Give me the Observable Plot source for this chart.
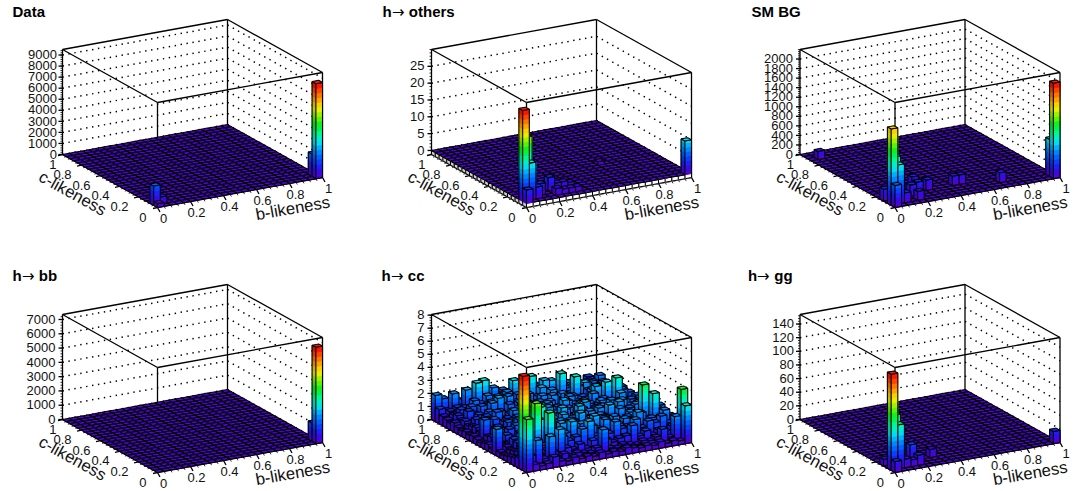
<!DOCTYPE html>
<html><head><meta charset="utf-8">
<style>html,body{margin:0;padding:0;background:#fff}
@font-face{font-family:"ArrowFace";src:local("DejaVu Sans");font-weight:100 900;unicode-range:U+2190-21FF}
</style>
<script src="https://cdn.jsdelivr.net/npm/d3@7"></script>
<script src="https://cdn.jsdelivr.net/npm/@observablehq/plot@0.6"></script>
</head><body><div id="chart"></div>
<script>
// Bin contents: [b bin, c bin, value] on a 25 x 25 grid
const dataBins = [[24,0,8600],[24,1,2030],[0,1,1750],[1,1,640],[0,0,350]];
const othersBins = [[0,1,27],[1,2,18],[1,1,11],[0,0,4],[2,1,3.5],[3,2,3.5],[5,3,4],[6,3,2],[7,3,2],[8,3,1.5],[5,1,2],[6,1,1.5],[7,1,1.5],[8,1,1.5],[24,0,10],[16,9,1]];
const smBins = [[24,0,2000],[24,1,780],[0,1,1600],[1,2,945],[1,1,820],[0,0,460],[0,3,250],[2,1,210],[4,3,235],[5,3,270],[6,6,220],[4,1,190],[7,4,220],[11,4,200],[12,4,200],[17,2,210],[1,22,170]];
const bbBins = [[24,0,6750],[24,1,1300]];
const ggBins = [[0,1,141],[1,2,76],[1,1,65],[2,1,13],[0,0,16],[4,3,24],[0,3,10],[4,1,15],[3,1,10],[7,3,12],[24,0,18]];
// h->cc, rows from c bin 24 (back) down to c bin 0 (front), each from b bin 0 to 24
const ccRows = [
[2.0,1.65,1.1,1.4,1.2,1.5,1.3,1.2,1.6,1.3,1.5,1.1,1.3,1.0,1.2,1.4,1.1,1.3,1.2,1.0,1.1,1.2,0.9,1.3,1.0],
[1.1,0.9,2.1,1.0,2.2,1.2,1.3,0.9,2.0,1.1,1.3,0.8,1.2,1.5,1.0,0.9,1.3,1.1,0.8,1.4,1.0,1.2,1.1,0.9,1.2],
[0.7,1.0,1.2,1.1,0.9,2.8,2.9,1.0,1.3,1.5,1.0,1.2,0.9,1.4,1.1,1.3,1.6,1.2,1.0,1.3,0.9,1.1,1.4,1.0,1.1],
[0.6,0.9,1.2,0.8,1.7,1.4,1.9,1.5,1.2,1.9,2.7,1.3,1.6,1.4,1.9,1.2,1.5,1.1,1.8,1.4,1.6,1.2,1.5,1.9,1.1],
[0.5,1.0,0.8,1.5,1.2,0.9,1.6,1.9,1.4,1.2,1.8,1.5,3.0,1.6,2.5,2.4,1.4,1.8,1.2,1.9,1.5,1.1,1.4,1.6,1.2],
[0.7,0.8,1.4,1.1,1.6,1.2,1.5,0.9,2.0,1.5,1.2,1.9,1.4,2.2,1.5,1.2,3.0,1.6,1.9,1.2,1.5,1.8,1.2,1.1,1.5],
[0.5,0.9,0.7,1.2,0.9,1.9,2.2,1.4,1.1,1.6,2.0,1.2,1.8,1.5,2.1,1.4,1.6,1.2,2.0,2.2,1.4,1.6,1.2,1.5,1.4],
[0.4,0.7,1.1,0.8,1.5,1.1,1.2,1.8,1.4,0.9,1.6,1.4,2.0,1.2,1.6,1.9,1.5,3.0,1.4,1.8,1.2,1.5,1.9,1.2,1.6],
[0.5,0.8,0.7,1.4,1.1,1.6,0.9,1.5,1.2,1.9,1.4,1.8,1.2,2.1,1.5,1.4,1.8,1.6,1.2,2.0,1.6,1.2,1.5,1.4,1.2],
[0.4,0.9,1.2,0.8,1.8,1.2,1.5,1.1,2.1,1.2,1.6,1.5,1.9,1.4,1.2,2.0,1.5,1.8,1.4,2.4,1.5,1.6,1.2,1.8,1.5],
[0.5,0.7,0.9,1.5,1.1,1.4,1.9,1.2,1.5,1.8,1.1,2.0,1.5,1.2,1.9,1.6,1.4,1.2,2.1,1.5,2.8,1.4,1.6,1.2,1.1],
[0.4,1.8,0.8,1.1,1.4,0.9,1.6,1.4,1.2,2.0,1.5,1.2,1.8,2.2,1.4,1.2,1.9,1.6,1.4,1.8,1.2,3.2,1.5,1.4,1.6],
[0.3,0.7,1.1,0.8,1.5,1.2,1.1,1.9,1.5,1.2,2.1,1.6,1.4,1.8,1.2,2.0,1.5,1.4,1.9,1.2,1.6,2.2,1.2,1.5,1.2],
[0.4,0.8,0.7,1.2,0.9,1.8,1.4,1.2,2.0,1.6,1.2,1.5,1.9,1.2,1.6,2.2,1.4,1.8,1.2,2.0,1.5,1.2,1.8,1.2,1.4],
[0.5,0.6,0.9,1.4,1.6,1.1,1.9,1.5,1.2,1.8,1.4,2.3,1.2,1.6,2.0,1.2,1.5,1.9,1.4,1.2,2.1,1.6,1.2,1.5,1.8],
[0.3,0.7,1.2,0.8,1.2,1.5,1.2,2.1,1.6,1.4,1.9,1.2,1.6,2.4,1.4,1.5,2.0,1.2,1.8,2.2,1.4,1.5,1.9,1.4,1.2],
[2.0,0.6,0.8,1.1,1.8,1.2,1.6,1.4,1.9,1.2,2.2,1.5,1.4,1.8,2.1,1.2,1.6,2.3,1.5,1.2,1.8,2.0,1.4,1.6,1.1],
[0.4,0.7,1.2,1.5,0.9,1.4,3.3,1.2,1.5,2.0,1.4,1.8,2.3,1.2,1.6,1.9,1.2,1.5,2.1,1.4,1.6,1.2,2.2,1.5,1.8],
[0.3,0.6,1.1,0.8,1.6,1.2,1.5,1.9,1.4,1.2,2.1,1.6,1.2,2.0,1.5,1.8,1.4,1.6,1.2,1.9,1.5,3.8,1.4,1.8,1.5],
[0.4,0.7,0.9,1.4,1.1,1.8,1.2,1.5,2.2,1.6,1.2,1.9,1.5,2.3,1.4,1.6,2.0,1.2,1.8,1.5,1.9,1.4,3.2,1.6,1.4],
[0.5,0.8,1.2,0.9,3.0,1.4,1.9,1.2,1.6,2.4,1.5,1.2,1.8,1.5,2.1,1.2,1.6,1.9,1.4,2.2,1.2,1.6,1.5,2.0,1.5],
[0.6,1.0,0.8,4.5,1.2,3.6,1.5,1.6,1.2,1.4,1.9,2.4,1.2,1.6,1.2,2.0,1.4,1.5,1.9,1.2,1.6,1.4,1.8,1.2,1.6],
[0.8,1.0,0.8,0.7,1.0,0.8,2.4,0.9,0.7,1.0,0.6,1.1,0.8,1.0,0.7,0.9,1.0,1.7,0.8,1.1,0.7,1.0,0.8,1.1,1.0],
[7.2,1.0,2.1,0.6,2.2,0.5,0.7,0.4,0.6,0.5,0.4,0.7,2.0,0.5,0.4,0.6,0.5,0.4,0.6,0.5,0.7,1.2,0.5,2.0,4.0],
[4.05,0.5,0.3,0.4,0.8,0.4,0.3,0.5,0.3,0.4,0.3,0.5,0.3,0.4,0.3,0.5,0.4,0.3,0.4,0.3,0.5,0.3,0.4,0.3,2.9]
];
const titles = ["Data","h→ others","SM BG","h→ bb","h→ cc","h→ gg"];
const binTickLabels = [0,0.2,0.4,0.6,0.8,1];
const zTickStep = [1000,5,200,1000,1,20];
const zTop = [9500,30,2200,7350,8.05,154];
const zBottom = [0,-1.2,0,0,0,0];
const zTickLast = [9000,25,2000,7000,8,140];
const binsByPanel = [dataBins,othersBins,smBins,bbBins,null,ggBins];

// Layout of the oblique view, in page pixels
const N = 25, BANDS = 20;
const col = [0,369,737.5], row = [0,265];
const titleX = [12,382,751,12,381,747.5], titleY = [16,280.5];
const zLabelGap = [5.5,7,7,7,7,6];
const view = {ox:157,oy:207,bx:165,by:-30,cx:-95,cy:-53,zh:105};
const paletteStops = [[0,"#5a00c8"],[.1,"#2a10f0"],[.2,"#0050ff"],[.3,"#0098ff"],[.38,"#00e4f0"],[.46,"#00f8a8"],[.56,"#00f020"],[.65,"#80f000"],[.74,"#f8f000"],[.85,"#ff8c00"],[1,"#f80000"]];
const palette = d3.scaleLinear().domain(paletteStops.map(d=>d[0])).range(paletteStops.map(d=>d[1])).interpolate(d3.interpolateRgb);

const polys=[], thin=[], heavy=[], dots=[], labels=[], heads=[], axisTitles=[];
let pid=0;
function poly(pts,fill,stroke){const k=pid++;for(const [x,y] of [...pts,pts[0]])polys.push({x,y,k,fill,stroke});}
function shade(c,f){const r=d3.rgb(c);return d3.rgb(r.r*f,r.g*f,r.b*f).formatRgb();}

titles.forEach((title,p)=>{
  const dx=col[p%3], dy=row[Math.floor(p/3)];
  const zlo=zBottom[p], zhi=zTop[p], zs=view.zh/(zhi-zlo);
  const P=(b,c,z)=>[dx+view.ox+view.bx*b+view.cx*c, dy+view.oy+view.by*b+view.cy*c-(z-zlo)*zs];
  const seg=(list,a,b,extra={})=>list.push({x1:a[0],y1:a[1],x2:b[0],y2:b[1],...extra});
  heads.push({x:titleX[p],y:titleY[Math.floor(p/3)],text:title});

  // grid on the back walls and the box
  const last=zTickLast[p], step=zTickStep[p];
  for(let z=0;z<=last+1e-9;z+=step){
    seg(dots,P(0,1,z),P(1,1,z)); seg(dots,P(1,1,z),P(1,0,z));
    const L=P(0,1,z);
    seg(heavy,[L[0]-4,L[1]],L);
    labels.push({x:L[0]-zLabelGap[p],y:L[1],text:String(Math.round(z*10)/10),anchor:"end"});
  }
  for(let z=0;z<=zhi;z+=step/5){const L=P(0,1,z);seg(thin,[L[0]-2,L[1]],L);}
  seg(heavy,P(1,1,zlo),P(1,1,zhi));
  seg(heavy,P(0,1,zlo),P(0,1,zhi));
  seg(heavy,P(1,0,zlo),P(1,0,zhi));
  seg(heavy,P(0,0,zlo),P(0,0,zhi));
  [[[0,1],[1,1]],[[1,1],[1,0]],[[1,0],[0,0]],[[0,0],[0,1]]].forEach(([a,b])=>seg(heavy,P(a[0],a[1],zhi),P(b[0],b[1],zhi)));

  // bin contents
  const grid=d3.range(N).map(()=>new Array(N).fill(0));
  if(p===4) ccRows.forEach((r,ri)=>r.forEach((v,i)=>{grid[N-1-ri][i]=v;}));
  else binsByPanel[p].forEach(([i,j,v])=>{grid[j][i]=v;});
  const hmax=d3.max(grid.flat()), lev=hmax/BANDS;
  const color=k=>palette((Math.min(k,BANDS-1)+.5)/BANDS);

  for(let j=N-1;j>=0;j--)for(let i=N-1;i>=0;i--){
    const v=grid[j][i], b0=i/N,b1=(i+1)/N,c0=j/N,c1=(j+1)/N;
    const faces=[[[b0,c1],[b0,c0],.82],[[b0,c0],[b1,c0],1]];
    for(const [A,B,f] of faces){
      const face=(z0,z1,c)=>{const col2=shade(c,f);poly([P(A[0],A[1],z0),P(B[0],B[1],z0),P(B[0],B[1],z1),P(A[0],A[1],z1)],col2,col2);};
      if(zlo<0) face(zlo,0,"#ffffff");
      for(let k=0;k*lev<v-1e-9;k++) face(k*lev,Math.min((k+1)*lev,v),color(k));
      if(v>0||zlo<0) poly([P(A[0],A[1],zlo),P(B[0],B[1],zlo),P(B[0],B[1],v),P(A[0],A[1],v)],"none","#000");
    }
    const topK=v>0?Math.ceil(v/lev-1e-9)-1:0;
    poly([P(b0,c0,v),P(b1,c0,v),P(b1,c1,v),P(b0,c1,v)],color(topK),"#000");
  }

  // axes along the floor
  for(let t=0;t<=25;t++){
    const major=t%5===0, len=major?5:2.5;
    const a=P(t/25,0,zlo), c=P(0,t/25,zlo);
    const list=major?heavy:thin;
    seg(list,a,[a[0]+len*0.5,a[1]+len*0.9]);
    seg(list,c,[c[0]-len*0.9,c[1]+len*0.2]);
  }
  seg(heavy,P(0,0,zlo),P(1,0,zlo)); seg(heavy,P(0,0,zlo),P(0,1,zlo));
  binTickLabels.forEach(t=>{
    const a=P(t,0,zlo), c=P(0,t,zlo);
    labels.push({x:a[0]+6,y:a[1]+11,text:String(t),anchor:"middle"});
    labels.push({x:c[0]-(t===1?6:t===0?11:10),y:c[1]+10,text:String(t),anchor:"end"});
  });
  axisTitles.push({x:dx+72,y:dy+193,text:"c-likeness",rotate:29});
  axisTitles.push({x:dx+292.2,y:dy+208,text:"b-likeness",rotate:-10});
});

const font="Liberation Sans, Arial, Helvetica, sans-serif";
const chart=Plot.plot({
  width:1082,height:491,margin:0,
  x:{domain:[0,1082],range:[0,1082],axis:null},
  y:{domain:[0,491],range:[0,491],axis:null},
  color:{type:"identity"},
  style:{background:"#fff",fontFamily:font},
  marks:[
    Plot.link(dots,{x1:"x1",y1:"y1",x2:"x2",y2:"y2",stroke:"#000",strokeWidth:1.5,strokeDasharray:"1.4,4.6"}),
    Plot.link(heavy,{x1:"x1",y1:"y1",x2:"x2",y2:"y2",stroke:"#000",strokeWidth:1.3}),
    Plot.link(thin,{x1:"x1",y1:"y1",x2:"x2",y2:"y2",stroke:"#000",strokeWidth:.8}),
    Plot.line(polys,{x:"x",y:"y",z:"k",fill:"fill",stroke:"stroke",strokeWidth:1.05,strokeLinejoin:"miter"}),
    Plot.text(labels.filter(d=>d.anchor==="end"),{x:"x",y:"y",text:"text",textAnchor:"end",fontSize:13,fill:"#111"}),
    Plot.text(labels.filter(d=>d.anchor==="middle"),{x:"x",y:"y",text:"text",textAnchor:"middle",fontSize:13,fill:"#111"}),
    Plot.text(axisTitles,{x:"x",y:"y",text:"text",rotate:"rotate",fontSize:16.7,fill:"#111"}),
    Plot.text(heads,{x:"x",y:"y",text:"text",textAnchor:"start",lineAnchor:"bottom",fontSize:15,fontWeight:"bold",fill:"#000",fontFamily:"ArrowFace, Liberation Sans, Arial, sans-serif"})
  ]
});
document.getElementById("chart").appendChild(chart);
</script></body></html>
